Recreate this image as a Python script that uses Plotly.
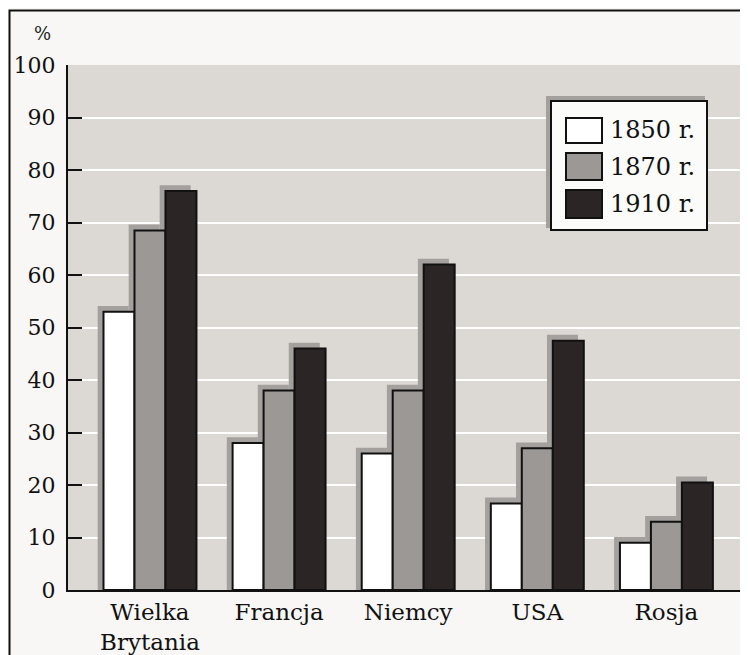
import plotly.graph_objects as go

categories = ["Wielka<br>Brytania", "Francja", "Niemcy", "USA", "Rosja"]
series_names = ["1850 r.", "1870 r.", "1910 r."]
values_1850 = [53, 28, 26, 16.5, 9]
values_1870 = [68.5, 38, 38, 27, 13]
values_1910 = [76, 46, 62, 47.5, 20.5]
y_ticks = [0, 10, 20, 30, 40, 50, 60, 70, 80, 90, 100]

series_values = [values_1850, values_1870, values_1910]
colors = ["#ffffff", "#9b9896", "#2b2526"]

# the page body adds an 8px offset, so the figure is sized to fit the window
OFF = 8
W, H = 740, 647
L, R, T, B = 60, 8, 57, 65
pw, ph = W - L - R, H - T - B


def px_x(vx):
    return (vx - OFF - L) / pw


def px_y(vy):
    return (H - B - (vy - OFF)) / ph


FONT = "DejaVu Serif"
BAR_W = 0.24
offsets = [-1.5 * BAR_W, -0.5 * BAR_W, 0.5 * BAR_W]
SH_DX, SH_DY = 0.045, 1.1
SHADOW = "#a3a09d"

xs = list(range(len(categories)))
fig = go.Figure()
# soft print shadows behind the bars
for name, vals, off in zip(series_names, series_values, offsets):
    fig.add_trace(go.Bar(
        x=xs, y=[v + SH_DY for v in vals], offset=off - SH_DX, width=BAR_W,
        marker=dict(color=SHADOW, line=dict(width=0)),
        showlegend=False, hoverinfo="skip",
    ))
for name, vals, col, off in zip(series_names, series_values, colors, offsets):
    fig.add_trace(go.Bar(
        x=xs, y=vals, name=name, offset=off, width=BAR_W,
        marker=dict(color=col, line=dict(color="#111111", width=2)),
        showlegend=False,
    ))

shapes = []
# outer page border (top & left)
shapes.append(dict(type="rect", xref="paper", yref="paper",
                   x0=px_x(9.5), x1=px_x(770), y0=px_y(10.5), y1=px_y(700),
                   line=dict(color="#111111", width=2), fillcolor="rgba(0,0,0,0)", layer="below"))

# custom legend
shapes.append(dict(type="rect", xref="paper", yref="paper",
                   x0=px_x(546), x1=px_x(705), y0=px_y(96), y1=px_y(228),
                   line=dict(width=0), fillcolor=SHADOW))
shapes.append(dict(type="rect", xref="paper", yref="paper",
                   x0=px_x(551), x1=px_x(707), y0=px_y(101), y1=px_y(230),
                   line=dict(color="#111111", width=2), fillcolor="#fbfbfa"))
rows = [(118, 143), (153, 180), (190, 218)]
annotations = []
for (ya, yb), col, name in zip(rows, colors, series_names):
    shapes.append(dict(type="rect", xref="paper", yref="paper",
                       x0=px_x(566), x1=px_x(602), y0=px_y(ya), y1=px_y(yb),
                       line=dict(color="#111111", width=2), fillcolor=col))
    annotations.append(dict(xref="paper", yref="paper", x=px_x(608), y=px_y((ya + yb) / 2),
                            text=name, showarrow=False, xanchor="left", yanchor="middle",
                            font=dict(family=FONT, size=24, color="#111111")))

annotations.append(dict(xref="paper", yref="paper", x=px_x(42), y=px_y(33), text="%",
                        showarrow=False, xanchor="center", yanchor="middle",
                        font=dict(family=FONT, size=18, color="#222222")))

fig.update_layout(
    width=W, height=H,
    margin=dict(l=L, r=R, t=T, b=B),
    paper_bgcolor="#f8f7f5",
    plot_bgcolor="#dcd9d5",
    barmode="overlay",
    shapes=shapes, annotations=annotations,
    font=dict(family=FONT, color="#111111"),
)
fig.update_xaxes(
    range=[-0.635, 4.57], tickmode="array", tickvals=xs,
    ticktext=categories, showline=True, linecolor="#111111", linewidth=2,
    showgrid=False, ticks="", tickfont=dict(family=FONT, size=23, color="#111111"),
    zeroline=False, automargin=False,
)
fig.update_yaxes(
    range=[0, 100], tickvals=y_ticks, showline=True, linecolor="#111111", linewidth=2,
    ticks="inside", ticklen=14, tickwidth=2, tickcolor="#111111",
    showgrid=True, gridcolor="#ffffff", gridwidth=2, zeroline=False,
    tickfont=dict(family=FONT, size=22, color="#111111"), ticklabelstandoff=6,
    automargin=False,
)

fig.write_html("out.html")
